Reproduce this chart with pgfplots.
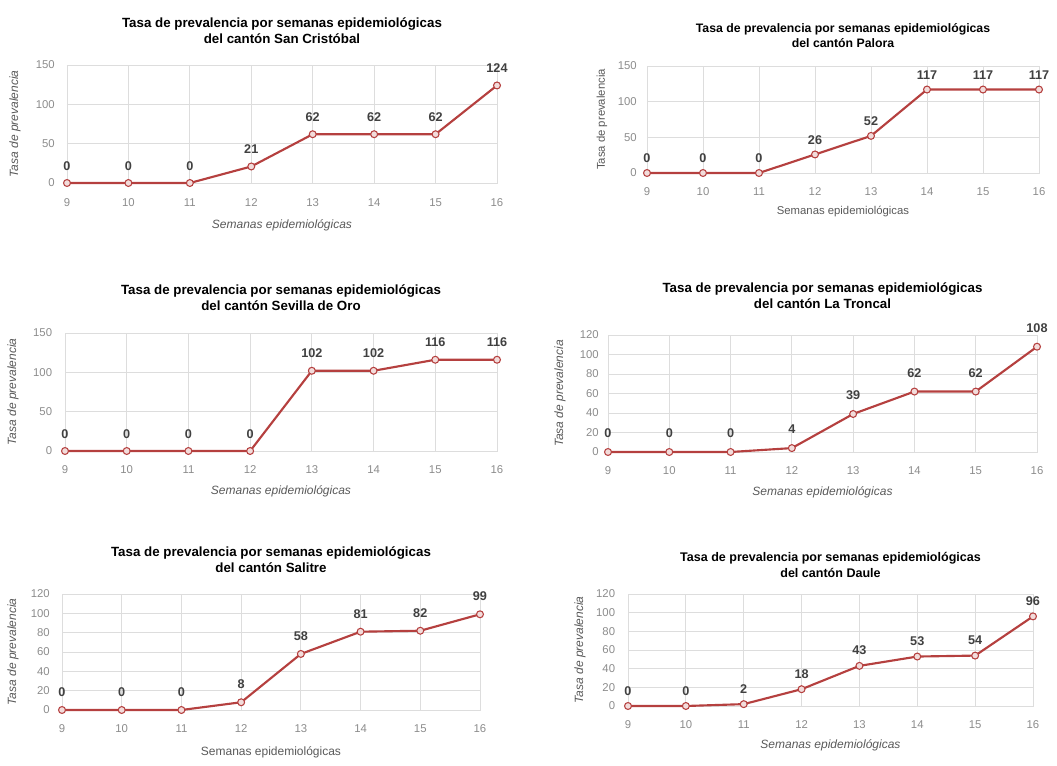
\documentclass[border=0pt]{standalone}
\usepackage{fontspec}
\setmainfont{Liberation Sans}
\usepackage{pgfplots}
\pgfplotsset{compat=1.18}
\definecolor{gridgray}{HTML}{DDDDDD}
\definecolor{tickgray}{HTML}{8C8C8C}
\definecolor{axgray}{HTML}{595959}
\definecolor{labgray}{HTML}{404040}
\definecolor{linered}{HTML}{B5403F}
\definecolor{markfill}{HTML}{F2DCDB}
\pgfplotsset{
  /pgf/number format/assume math mode=true,
  panel/.style={
    scale only axis, anchor=south west,
    xmin=9, xmax=16, xtick={9,...,16}, ymin=0,
    grid=major, major grid style={draw=gridgray, line width=0.6pt},
    axis line style={draw=gridgray, line width=0.6pt},
    tick style={draw=none},
    ticklabel style={font=\fontsize{8.5}{10}\selectfont, text=tickgray},
    xticklabel style={anchor=center, inner sep=0pt, yshift=-14.25pt},
    clip=false,
    title style={font=\bfseries\fontsize{10}{12}\selectfont, align=center, anchor=south, inner sep=0pt, text=black},
    label style={font=\itshape\fontsize{9}{11}\selectfont, text=axgray, inner sep=0pt},
    ylabel={Tasa de prevalencia},
    xlabel={Semanas epidemiológicas},
    every node near coord/.append style={font=\bfseries\fontsize{9.5}{11}\selectfont, text=labgray, anchor=center},
  },
  ser/.style={color=linered, line width=1.6pt, mark=*, mark size=2.6pt,
    mark options={fill=markfill, draw=linered, line width=0.8pt}, nodes near coords},
}
\begin{document}
\begin{tikzpicture}
\path[use as bounding box] (0,0) rectangle (792.75pt,573.75pt);
% 1 San Cristobal
\begin{axis}[panel, at={(50.25pt,436.5pt)}, width=322.5pt, height=88.5pt,
  ymax=150, ytick={0,50,100,150},
  yticklabel style={anchor=east, inner sep=0pt, xshift=-9pt},
  xticklabel style={yshift=-0.75pt},
  title style={at={(0.5,1)}, yshift=10pt},
  title={Tasa de prevalencia por semanas epidemiológicas\\del cantón San Cristóbal},
  xlabel style={at={([yshift=-31.5pt]axis description cs:0.5,0)}, anchor=center},
  ylabel style={at={([xshift=-39pt]axis description cs:0,0.5)}, anchor=center},
  every node near coord/.append style={yshift=13pt}]
\addplot[ser] coordinates {(9,0) (10,0) (11,0) (12,21) (13,62) (14,62) (15,62) (16,124)};
\end{axis}
% 2 Palora
\begin{axis}[panel, at={(485.25pt,444pt)}, width=294pt, height=80.25pt,
  ymax=150, ytick={0,50,100,150},
  yticklabel style={anchor=east, inner sep=0pt, xshift=-7.5pt},
  title style={at={(0.5,1)}, yshift=7.5pt, font=\bfseries\fontsize{9.2}{11}\selectfont},
  title={Tasa de prevalencia por semanas epidemiológicas\\del cantón Palora},
  label style={font=\fontsize{8.5}{10}\selectfont},
  xlabel style={at={([yshift=-29pt]axis description cs:0.5,0)}, anchor=center},
  ylabel style={at={([xshift=-33.75pt]axis description cs:0,0.5)}, anchor=center},
  every node near coord/.append style={yshift=11pt}]
\addplot[ser] coordinates {(9,0) (10,0) (11,0) (12,26) (13,52) (14,117) (15,117) (16,117)};
\end{axis}
% 3 Sevilla de Oro
\begin{axis}[panel, at={(48.75pt,235.5pt)}, width=324pt, height=88.5pt,
  ymax=150, ytick={0,50,100,150},
  yticklabel style={anchor=east, inner sep=0pt, xshift=-9.5pt},
  title style={at={(0.5,1)}, yshift=10.5pt},
  title={Tasa de prevalencia por semanas epidemiológicas\\del cantón Sevilla de Oro},
  xlabel style={at={([yshift=-30.5pt]axis description cs:0.5,0)}, anchor=center},
  ylabel style={at={([xshift=-39pt]axis description cs:0,0.5)}, anchor=center},
  every node near coord/.append style={yshift=13pt}]
\addplot[ser] coordinates {(9,0) (10,0) (11,0) (12,0) (13,102) (14,102) (15,116) (16,116)};
\end{axis}
% 4 La Troncal
\begin{axis}[panel, at={(456pt,234.75pt)}, width=321.75pt, height=87.75pt,
  ymax=120, ytick={0,20,...,120},
  yticklabel style={anchor=east, inner sep=0pt, xshift=-6.75pt},
  title style={at={(0.5,1)}, yshift=13.5pt},
  title={Tasa de prevalencia por semanas epidemiológicas\\del cantón La Troncal},
  xlabel style={at={([yshift=-30pt]axis description cs:0.5,0)}, anchor=center},
  ylabel style={at={([xshift=-36pt]axis description cs:0,0.5)}, anchor=center},
  every node near coord/.append style={yshift=14pt}]
\addplot[ser] coordinates {(9,0) (10,0) (11,0) (12,4) (13,39) (14,62) (15,62) (16,108)};
\end{axis}
% 5 Salitre
\begin{axis}[panel, at={(46.5pt,41.25pt)}, width=313.5pt, height=87pt,
  ymax=120, ytick={0,20,...,120},
  yticklabel style={anchor=east, inner sep=0pt, xshift=-9pt},
  title style={at={(0.5,1)}, yshift=9.5pt},
  title={Tasa de prevalencia por semanas epidemiológicas\\del cantón Salitre},
  xlabel style={at={([yshift=-31.5pt]axis description cs:0.5,0)}, anchor=center, font=\fontsize{9}{11}\selectfont},
  ylabel style={at={([xshift=-36.75pt]axis description cs:0,0.5)}, anchor=center},
  every node near coord/.append style={yshift=13.5pt}]
\addplot[ser] coordinates {(9,0) (10,0) (11,0) (12,8) (13,58) (14,81) (15,82) (16,99)};
\end{axis}
% 6 Daule
\begin{axis}[panel, at={(471pt,44.25pt)}, width=303.75pt, height=84pt,
  ymax=120, ytick={0,20,...,120},
  yticklabel style={anchor=east, inner sep=0pt, xshift=-9.5pt},
  title style={at={(0.5,1)}, yshift=6pt, font=\bfseries\fontsize{9.4}{12}\selectfont},
  title={Tasa de prevalencia por semanas epidemiológicas\\del cantón Daule},
  xlabel style={at={([yshift=-29.5pt]axis description cs:0.5,0)}, anchor=center},
  ylabel style={at={([xshift=-36pt]axis description cs:0,0.5)}, anchor=center},
  every node near coord/.append style={yshift=11.5pt}]
\addplot[ser] coordinates {(9,0) (10,0) (11,2) (12,18) (13,43) (14,53) (15,54) (16,96)};
\end{axis}
\end{tikzpicture}
\end{document}
